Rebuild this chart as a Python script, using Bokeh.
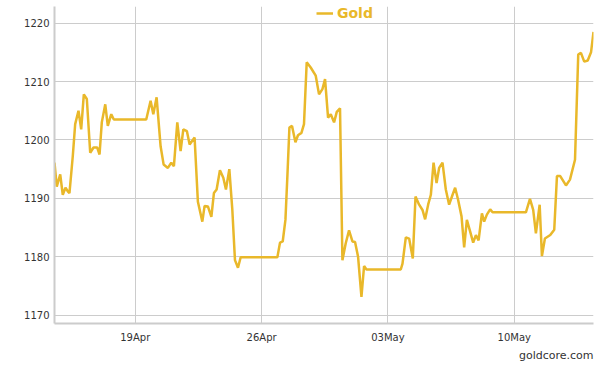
from datetime import datetime, timedelta
from bokeh.plotting import figure
from bokeh.models import (ColumnDataSource, Range1d, FixedTicker, DatetimeTickFormatter,
                          Legend, LegendItem, Title)
from bokeh.embed import file_html
from bokeh.resources import INLINE

# ---- data: hours since 2015-04-14 00:00, gold price (USD/oz)
base_date = datetime(2015, 4, 14)
hours = [12.6, 15.6, 20.2, 23.6, 27.2, 30.3, 32.5, 36.9, 40.1, 44.5, 48.1, 51.6, 55.6, 60.1,
         64.5, 69.4, 72.5, 75.5, 80.1, 83.5, 88.1, 91.5, 134.6, 140.4, 144.0, 148.4, 153.7,
         157.7, 163.4, 167.9, 171.4, 175.9, 180.3, 183.9, 188.7, 192.3, 198.9, 203.3, 209.2,
         212.2, 216.6, 221.2, 224.6, 228.2, 232.6, 237.1, 240.6, 245.1, 249.1, 252.6, 256.6,
         260.2, 309.0, 312.5, 316.1, 319.7, 322.3, 325.0, 328.5, 333.0, 336.4, 341.0, 344.4,
         348.0, 353.3, 360.0, 364.4, 368.9, 372.4, 376.4, 380.0, 384.4, 388.0, 392.3, 395.5,
         399.9, 404.3, 408.8, 412.3, 416.3, 420.8, 424.3, 427.5, 473.1, 475.4, 479.8, 484.2,
         489.1, 492.7, 497.5, 502.0, 505.5, 509.5, 513.1, 516.7, 520.7, 524.1, 528.6, 533.0,
         537.4, 542.0, 545.4, 549.4, 553.9, 557.4, 561.0, 565.4, 569.4, 573.0, 576.6, 581.0,
         584.0, 587.6, 592.0, 595.2, 639.5, 644.9, 649.2, 652.8, 657.8, 660.8, 664.8, 671.9,
         677.2, 680.8, 685.2, 692.8, 698.1, 704.8, 709.1, 712.7, 717.1, 721.7, 726.1, 729.4]
prices = [1196.1, 1192.0, 1194.1, 1190.6, 1191.8, 1191.2, 1190.9, 1197.2, 1202.7, 1205.0,
          1201.8, 1207.8, 1207.0, 1197.8, 1198.7, 1198.7, 1197.5, 1203.0, 1206.1, 1202.4,
          1204.4, 1203.5, 1203.5, 1206.7, 1204.4, 1207.3, 1198.9, 1195.8, 1195.2, 1196.1,
          1195.5, 1203.0, 1198.1, 1201.8, 1201.5, 1199.2, 1200.4, 1189.4, 1186.0, 1188.7,
          1188.6, 1186.8, 1190.9, 1191.5, 1194.8, 1193.5, 1191.5, 1195.0, 1188.0, 1179.4,
          1178.1, 1179.9, 1179.9, 1182.4, 1182.6, 1186.3, 1193.8, 1202.1, 1202.4, 1199.6,
          1200.8, 1201.2, 1202.7, 1213.3, 1212.4, 1211.0, 1207.8, 1208.7, 1210.4, 1203.8,
          1204.4, 1203.0, 1204.8, 1205.4, 1179.4, 1182.3, 1184.5, 1182.6, 1182.5, 1180.0,
          1173.1, 1178.4, 1177.8, 1177.8, 1178.8, 1183.3, 1183.1, 1179.7, 1190.3, 1188.9,
          1188.0, 1186.4, 1188.9, 1190.6, 1196.1, 1192.6, 1195.2, 1196.1, 1191.5, 1188.9,
          1190.6, 1191.8, 1189.7, 1186.9, 1181.6, 1186.3, 1184.3, 1182.4, 1183.7, 1182.8,
          1187.4, 1186.0, 1187.2, 1188.1, 1187.6, 1187.6, 1189.9, 1188.0, 1184.0, 1188.9,
          1180.1, 1183.1, 1183.7, 1184.6, 1193.8, 1193.8, 1192.2, 1193.2, 1196.6, 1214.6,
          1214.9, 1213.4, 1213.6, 1215.0, 1218.5]
series_name = "Gold"
y_ticks = [1170, 1180, 1190, 1200, 1210, 1220]
x_tick_dates = [datetime(2015, 4, 19), datetime(2015, 4, 26), datetime(2015, 5, 3), datetime(2015, 5, 10)]
source_text = "goldcore.com"

times = [base_date + timedelta(hours=h) for h in hours]
src = ColumnDataSource(dict(t=times, v=prices))

GOLD = "#E9B82A"
GRID = "#cccccc"
TXT = "#333333"
FONT = "DejaVu Sans"

p = figure(width=600, height=362, x_axis_type="datetime", output_backend="svg",
           toolbar_location=None,
           x_range=Range1d(times[0], times[-1]),
           y_range=Range1d(1168.55, 1222.85),
           min_border_left=54, min_border_right=7, min_border_top=6, min_border_bottom=0)
p.outline_line_color = None
p.background_fill_color = "white"

r = p.line(x="t", y="v", source=src, line_color=GOLD, line_width=2.5)

# axes
epoch = datetime(1970, 1, 1)
p.xaxis.ticker = FixedTicker(ticks=[(d - epoch).total_seconds() * 1000 for d in x_tick_dates])
p.xaxis.formatter = DatetimeTickFormatter(days="%d%b", months="%d%b", hours="%d%b")
p.yaxis.ticker = FixedTicker(ticks=y_ticks)
for ax in (p.xaxis[0], p.yaxis[0]):
    ax.axis_line_color = GRID
    ax.axis_line_width = 2
    ax.major_tick_line_color = None
    ax.minor_tick_line_color = None
    ax.major_tick_out = 0
    ax.major_tick_in = 0
    ax.major_label_text_font = FONT
    ax.major_label_text_font_size = "10px"
    ax.major_label_text_color = TXT
p.yaxis.major_label_standoff = 5
p.xaxis.major_label_standoff = 8

p.xgrid.grid_line_color = GRID
p.ygrid.grid_line_color = GRID
p.xgrid.ticker = p.xaxis[0].ticker
p.ygrid.ticker = p.yaxis[0].ticker

legend = Legend(items=[LegendItem(label=series_name, renderers=[r])],
                location=(262, 302), orientation="horizontal",
                label_text_font=FONT, label_text_font_size="14px", label_text_font_style="bold",
                label_text_color=GOLD, glyph_width=17, glyph_height=14, label_height=14,
                label_standoff=4, padding=0, margin=0, spacing=0,
                border_line_alpha=0, background_fill_alpha=0)
p.add_layout(legend, "center")

p.add_layout(Title(text=source_text, align="right", text_font=FONT, text_font_size="11px",
                   text_font_style="normal", text_color=TXT, standoff=2), "below")

open("out.html", "w").write(file_html(p, INLINE))
